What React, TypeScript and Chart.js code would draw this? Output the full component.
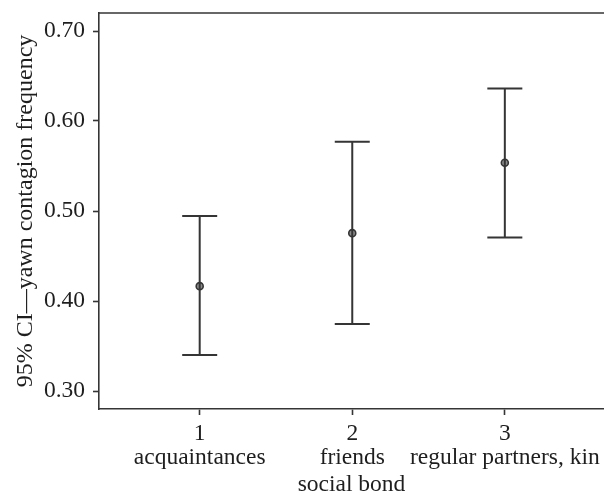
import React, { useEffect, useRef } from "react";
import { Chart, registerables } from "chart.js";

Chart.register(...registerables);

const categories = ["1", "2", "3"];
const groupNames = ["acquaintances", "friends", "regular partners, kin"];
const xPositions = [1, 2, 3];
const means = [0.4165, 0.4754, 0.5536];
const lowers = [0.340, 0.3745, 0.4706];
const uppers = [0.4944, 0.577, 0.636];
const yTicks = [0.3, 0.4, 0.5, 0.6, 0.7];
const yTitle = "95% CI\u2014yawn contagion frequency";
const xTitle = "social bond";

const FONT = "'Liberation Serif', 'DejaVu Serif', serif";
const INK = "#1e1e1e";
const LINE = "#353535";

const errorBarPlugin = {
  id: "errorBars",
  afterDatasetsDraw(chart: any) {
    const { ctx, scales, chartArea } = chart;
    const xs = scales.x;
    const ys = scales.y;
    ctx.save();
    // top frame line
    ctx.strokeStyle = LINE;
    ctx.lineWidth = 1.6;
    ctx.beginPath();
    ctx.moveTo(chartArea.left, chartArea.top);
    ctx.lineTo(chartArea.right, chartArea.top);
    ctx.stroke();
    ctx.strokeStyle = LINE;
    ctx.lineWidth = 2;
    const cap = 17.5;
    xPositions.forEach((xv, i) => {
      const px = xs.getPixelForValue(xv);
      const pLo = ys.getPixelForValue(lowers[i]);
      const pHi = ys.getPixelForValue(uppers[i]);
      ctx.beginPath();
      ctx.moveTo(px, pLo);
      ctx.lineTo(px, pHi);
      ctx.moveTo(px - cap, pLo);
      ctx.lineTo(px + cap, pLo);
      ctx.moveTo(px - cap, pHi);
      ctx.lineTo(px + cap, pHi);
      ctx.stroke();
    });
    ctx.restore();
  },
};

export default function App() {
  const ref = useRef<HTMLCanvasElement | null>(null);
  useEffect(() => {
    if (!ref.current) return;
    const chart = new Chart(ref.current, {
      type: "scatter",
      data: {
        datasets: [
          {
            data: xPositions.map((x, i) => ({ x, y: means[i] })),
            pointRadius: 3.5,
            pointBorderWidth: 1.6,
            borderColor: LINE,
            backgroundColor: "#8a8a8a",
            order: 0,
          },
        ],
      },
      options: {
        animation: false,
        responsive: false,
        devicePixelRatio: 1,
        layout: { autoPadding: false, padding: { top: 13, right: 0, left: 0, bottom: 0 } },
        plugins: {
          legend: { display: false },
          tooltip: { enabled: false },
        },
        scales: {
          x: {
            type: "linear",
            min: 0.34,
            max: 3.65,
            afterBuildTicks: (s: any) => {
              s.ticks = xPositions.map((v) => ({ value: v }));
            },
            afterFit: (s: any) => {
              s.height = 83;
              s.paddingLeft = 0;
              s.paddingRight = 0;
            },
            grid: {
              drawOnChartArea: false,
              drawTicks: true,
              tickLength: 6,
              tickColor: LINE,
              tickWidth: 1.6,
            },
            border: { display: true, color: LINE, width: 1.6 },
            ticks: {
              autoSkip: false,
              maxRotation: 0,
              padding: 7,
              color: INK,
              font: { family: FONT, size: 23.5, lineHeight: 1.02 },
              callback: (v: any) => {
                const i = xPositions.indexOf(Number(v));
                return i >= 0 ? [categories[i], groupNames[i]] : "";
              },
            },
            title: {
              display: true,
              text: xTitle,
              color: INK,
              font: { family: FONT, size: 23.5, lineHeight: 0.65 },
              padding: { top: 0, bottom: 0 },
            },
          },
          y: {
            type: "linear",
            min: 0.28,
            max: 0.72,
            afterBuildTicks: (s: any) => {
              s.ticks = yTicks.map((v) => ({ value: v }));
            },
            afterFit: (s: any) => {
              s.width = 99;
              s.paddingTop = 0;
              s.paddingBottom = 0;
            },
            grid: {
              drawOnChartArea: false,
              drawTicks: true,
              tickLength: 6,
              tickColor: LINE,
              tickWidth: 1.6,
            },
            border: { display: true, color: LINE, width: 1.6 },
            ticks: {
              padding: 8,
              color: INK,
              font: { family: FONT, size: 23.5, lineHeight: 0.8 },
              callback: (v: any) => Number(v).toFixed(2),
            },
            title: {
              display: true,
              text: yTitle,
              color: INK,
              font: { family: FONT, size: 24, lineHeight: 1.2 },
              padding: { top: 11, bottom: 0 },
            },
          },
        },
      },
      plugins: [errorBarPlugin],
    });
    return () => chart.destroy();
  }, []);
  return (
    <div style={{ position: "absolute", left: 0, top: 0, width: 604, height: 492, background: "#fff" }}>
      <canvas ref={ref} width={604} height={492} style={{ width: 604, height: 492, display: "block" }} />
    </div>
  );
}
